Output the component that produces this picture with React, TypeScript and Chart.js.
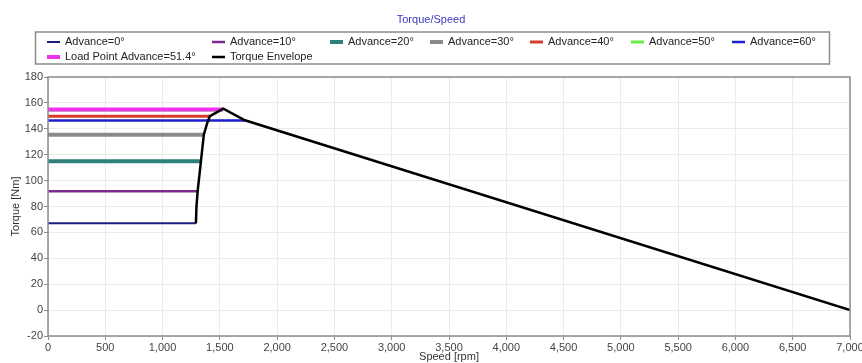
import React, { useEffect, useRef } from 'react';
import { Chart, registerables } from 'chart.js';

Chart.register(...registerables);

// ---------- data ----------
const chartTitle = 'Torque/Speed';
const xAxisTitle = 'Speed [rpm]';
const yAxisTitle = 'Torque [Nm]';

const advanceLabels = ['Advance=0°', 'Advance=10°', 'Advance=20°', 'Advance=30°', 'Advance=40°', 'Advance=50°', 'Advance=60°'];
const advanceTorque = [67, 91.7, 115, 135.5, 149.7, 154.6, 146.5];
const advanceEndSpeed = [1291, 1306, 1335, 1360, 1413, 1515, 1719];

const loadPointLabel = 'Load Point Advance=51.4°';
const loadPointTorque = 155;
const loadPointEndSpeed = 1528;

const envelopeLabel = 'Torque Envelope';
const envelopeSpeed = [1291, 1296, 1306, 1335, 1360, 1388, 1413, 1530, 1719, 7000];
const envelopeTorque = [67, 80, 91.7, 115, 135.5, 144, 149.7, 155.5, 146.6, 0];

const xTickValues = [0, 500, 1000, 1500, 2000, 2500, 3000, 3500, 4000, 4500, 5000, 5500, 6000, 6500, 7000];
const yTickValues = [-20, 0, 20, 40, 60, 80, 100, 120, 140, 160, 180];

// ---------- styles ----------
const advanceColors = ['#1c1c82', '#7a2a8c', '#2f807a', '#8a8a8a', '#d83a2e', '#66ee44', '#1e1ed2'];
const advanceWidths = [2, 2.5, 4, 4, 3, 3, 2.5];
const loadPointColor = '#ee33ee';
const envelopeColor = '#000000';
const FONT = '"Liberation Sans", Arial, sans-serif';

const legendPlugin = {
  id: 'customLegendAndFrame',
  afterDraw(chart: any) {
    const ctx = chart.ctx;
    const ca = chart.chartArea;
    ctx.save();
    // frame around plot area
    ctx.strokeStyle = '#8c8c8c';
    ctx.lineWidth = 1.5;
    ctx.strokeRect(ca.left, ca.top, ca.right - ca.left, ca.bottom - ca.top);

    // title
    ctx.fillStyle = '#3a3ac0';
    ctx.font = '11px ' + FONT;
    ctx.textAlign = 'center';
    ctx.textBaseline = 'middle';
    ctx.fillText(chartTitle, chart.width / 2, 20);

    // legend box
    ctx.strokeStyle = '#8c8c8c';
    ctx.lineWidth = 1.5;
    ctx.strokeRect(35.5, 32, 794, 32);

    const ds = chart.data.datasets;
    const row1 = [0, 1, 2, 3, 4, 5, 6];
    const row2 = [7, 8];
    const cols = [47, 212, 330, 430, 530, 631, 732];
    const rows: [number[], number][] = [[row1, 42], [row2, 57]];
    ctx.textAlign = 'left';
    ctx.font = '11px ' + FONT;
    rows.forEach(([idxs, y]) => {
      idxs.forEach((di, i) => {
        const d = ds[di];
        const x = cols[i];
        ctx.strokeStyle = d.borderColor;
        ctx.lineWidth = Math.max(2, d.borderWidth);
        ctx.beginPath();
        ctx.moveTo(x, y);
        ctx.lineTo(x + 13, y);
        ctx.stroke();
        ctx.fillStyle = '#222';
        ctx.fillText(d.label, x + 18, y);
      });
    });
    ctx.restore();
  },
};

export default function App() {
  const ref = useRef<HTMLCanvasElement>(null);
  useEffect(() => {
    if (!ref.current) return;
    const datasets: any[] = advanceLabels.map((label, i) => ({
      label,
      data: [
        { x: 0, y: advanceTorque[i] },
        { x: advanceEndSpeed[i], y: advanceTorque[i] },
      ],
      borderColor: advanceColors[i],
      backgroundColor: advanceColors[i],
      borderWidth: advanceWidths[i],
      pointRadius: 0,
      order: 2 + i,
    }));
    datasets.push({
      label: loadPointLabel,
      data: [
        { x: 0, y: loadPointTorque },
        { x: loadPointEndSpeed, y: loadPointTorque },
      ],
      borderColor: loadPointColor,
      backgroundColor: loadPointColor,
      borderWidth: 4,
      pointRadius: 0,
      order: 1,
    });
    datasets.push({
      label: envelopeLabel,
      data: envelopeSpeed.map((x, i) => ({ x, y: envelopeTorque[i] })),
      borderColor: envelopeColor,
      backgroundColor: envelopeColor,
      borderWidth: 2.5,
      pointRadius: 0,
      order: 0,
    });

    const chart = new Chart(ref.current, {
      type: 'line',
      data: { datasets },
      plugins: [legendPlugin],
      options: {
        animation: false,
        responsive: false,
        layout: { padding: { top: 77, right: 12, left: 0, bottom: -1 } },
        plugins: {
          legend: { display: false },
          title: { display: false },
          tooltip: { enabled: false },
        },
        elements: { line: { tension: 0 } },
        scales: {
          x: {
            type: 'linear',
            min: 0,
            max: 7000,
            afterBuildTicks: (s: any) => {
              s.ticks = xTickValues.map((v) => ({ value: v }));
            },
            afterFit: (s: any) => {
              s.paddingRight = 0;
              s.paddingLeft = 0;
              s.height = 28;
            },
            ticks: {
              autoSkip: false,
              maxRotation: 0,
              padding: 1,
              color: '#444',
              font: { family: FONT, size: 11 },
              callback: (v: any) => Number(v).toLocaleString('en-US'),
            },
            grid: { color: '#ebebeb', tickColor: '#8c8c8c', tickLength: 4 },
            border: { display: false },
            title: {
              display: true,
              text: xAxisTitle,
              color: '#333',
              font: { family: FONT, size: 11 },
              padding: { top: 0, bottom: 0 },
            },
          },
          y: {
            type: 'linear',
            min: -20,
            max: 180,
            afterBuildTicks: (s: any) => {
              s.ticks = yTickValues.map((v) => ({ value: v }));
            },
            afterFit: (s: any) => {
              s.paddingTop = 0;
              s.paddingBottom = 0;
              s.width = 48;
            },
            ticks: {
              autoSkip: false,
              padding: 1,
              color: '#444',
              font: { family: FONT, size: 11 },
            },
            grid: { color: '#ebebeb', tickColor: '#8c8c8c', tickLength: 4 },
            border: { display: false },
            title: {
              display: true,
              text: yAxisTitle,
              color: '#333',
              font: { family: FONT, size: 11 },
              padding: { top: 9, bottom: 0 },
            },
          },
        },
      },
    });
    return () => chart.destroy();
  }, []);
  return (
    <div style={{ position: 'fixed', left: 0, top: 0, width: 862, height: 363, background: '#fff' }}>
      <canvas ref={ref} width={862} height={363} style={{ display: 'block' }} />
    </div>
  );
}
